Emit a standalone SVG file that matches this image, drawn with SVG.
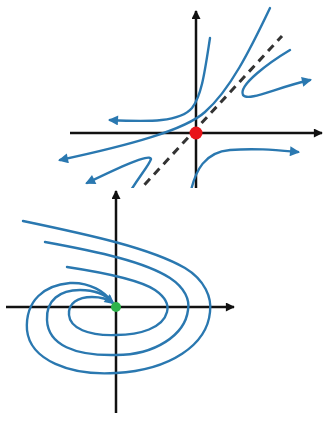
<svg xmlns="http://www.w3.org/2000/svg" width="324" height="423" viewBox="0 0 324 423">
<style>
.ax{stroke:#111;stroke-width:2.5;fill:none}
.tr{stroke:#2a78b0;stroke-width:2.4;fill:none;stroke-linecap:round}
.dash{stroke:#333;stroke-width:3;fill:none;stroke-dasharray:8 6}
</style>
<defs>
<marker id="ah" viewBox="0 0 10 10" refX="9" refY="5" markerWidth="10" markerHeight="9" markerUnits="userSpaceOnUse" orient="auto">
<path d="M0,0 L10,5 L0,10 Z" fill="#111"/>
</marker>
<marker id="bh" viewBox="0 0 10 10" refX="8" refY="5" markerWidth="12" markerHeight="10" markerUnits="userSpaceOnUse" orient="auto">
<path d="M0,0 L10,5 L0,10 Z" fill="#2a78b0"/>
</marker>
<clipPath id="topclip"><rect x="0" y="0" width="324" height="188"/></clipPath>
</defs>
<rect width="324" height="423" fill="#fff"/>
<g id="saddle" clip-path="url(#topclip)">
<g id="saddle-axes">
<line class="ax" x1="70" y1="133" x2="322" y2="133" marker-end="url(#ah)"/>
<line class="ax" x1="196" y1="195" x2="196" y2="11" marker-end="url(#ah)"/>
</g>
<line id="saddle-eigen" class="dash" x1="135" y1="195" x2="282" y2="36"/>
<g id="saddle-trajectories">
<path class="tr" d="M270,8 C250,50 230,90 205,112 C185,130 130,145 60,160" marker-end="url(#bh)"/>
<path class="tr" d="M210,38 C205,70 202,95 192,108 C180,122 150,122 110,120" marker-end="url(#bh)"/>
<path class="tr" d="M290,50 C270,62 238,85 243,95 C248,102 275,88 310,80" marker-end="url(#bh)"/>
<path class="tr" d="M190,195 C195,170 205,152 230,150 C255,148 275,150 298,152" marker-end="url(#bh)"/>
<path class="tr" d="M128,195 C138,178 150,164 151,159 C150,153 118,168 87,183" marker-end="url(#bh)"/>
</g>
<circle id="saddle-point" cx="196" cy="133" r="6.5" fill="#e8141a"/>
</g>
<g id="spiral">
<g id="spiral-axes">
<line class="ax" x1="6" y1="307" x2="234" y2="307" marker-end="url(#ah)"/>
<line class="ax" x1="116" y1="413" x2="116" y2="191" marker-end="url(#ah)"/>
</g>
<g id="spiral-trajectories">
<path class="tr" d="M23,221 C90,235 150,248 185,268 C205,280 212,298 210,312 C207,345 170,370 116,373 C70,376 30,360 27,330 C25,300 45,285 70,283 C90,282 105,292 112,302"/>
<path class="tr" d="M45,242 C100,252 145,262 170,278 C185,288 190,300 188,310 C185,335 155,355 116,355 C75,356 48,345 47,320 C46,300 60,290 80,290 C95,290 106,295 112,302"/>
<path class="tr" d="M67,267 C100,272 140,280 155,290 C165,297 169,305 167,312 C163,328 140,335 116,335 C88,336 70,328 69,315 C68,303 78,297 92,297 C102,297 108,299 113,303" marker-end="url(#bh)"/>
</g>
<circle id="spiral-point" cx="116" cy="307" r="5" fill="#2db34a"/>
</g>
</svg>
